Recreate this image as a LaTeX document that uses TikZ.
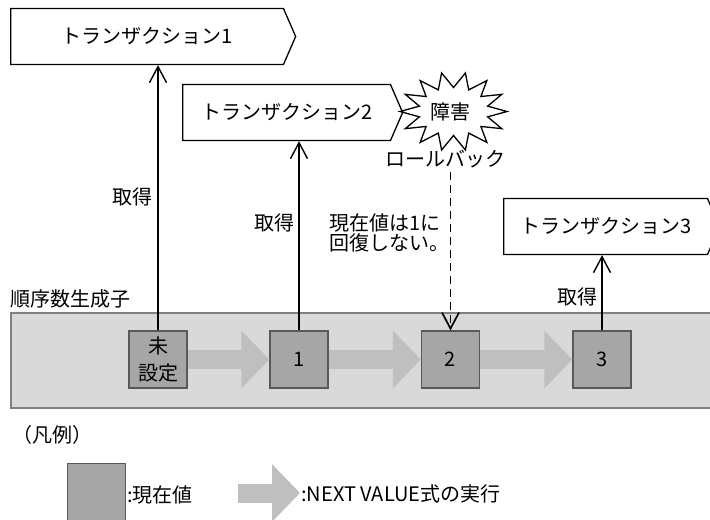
\documentclass[tikz,border=0pt]{standalone}
\usepackage{fontspec}
\setmainfont{Noto Sans CJK JP}
\usetikzlibrary{arrows.meta,positioning,shapes.symbols}
\definecolor{bandgray}{HTML}{D9D9D9}
\definecolor{bandedge}{HTML}{808080}
\definecolor{valgray}{HTML}{A6A6A6}
\definecolor{valedge}{HTML}{595959}
\definecolor{nextgray}{HTML}{BFBFBF}

\begin{document}
\begin{tikzpicture}[
  x=0.5pt, y=-0.5pt,
  font=\fontsize{10}{12}\selectfont,
  txbox/.style={draw, line width=0.65pt, fill=white, signal, signal to=east,
                signal pointer angle=133, minimum height=28pt, inner sep=0pt},
  burstline/.style={draw, line width=0.65pt, fill=white, line join=miter},
  band/.style={draw=bandedge, fill=bandgray, line width=0.8pt, minimum width=351pt,
               minimum height=47.5pt, inner sep=0pt},
  curval/.style={draw=valedge, fill=valgray, line width=0.6pt, minimum width=29pt,
                 minimum height=28.5pt, inner sep=0pt, align=center,
                 font=\fontsize{10}{13.5}\selectfont},
  nextval/.style={draw=nextgray, line width=9.5pt, -{Triangle[length=14pt, width=28pt]}},
  get/.style={-{Straight Barb[length=8pt, width=8.5pt]}, line width=0.7pt},
  fail/.style={get, line width=0.85pt, dash pattern=on 4pt off 2.5pt},
  lbl/.style={inner sep=0pt}
]
\useasboundingbox (0,0) rectangle (710,519);

% transactions
\node[txbox, minimum width=142.5pt, anchor=west] (tx1) at (10,36.5) {トランザクション1};
\node[txbox, minimum width=110pt, anchor=west] (tx2) at (182,112.5) {トランザクション2};
\node[txbox, minimum width=108pt, anchor=west] (tx3) at (503,226.5) {トランザクション3};

% failure burst
\draw[burstline] plot[samples=29, domain=0:28, variable=\k]
  ({453.5 + (mod(round(\k),2)==0 ? 53.5 : 35)*cos(\k*360/28)},
   {111.5 + (mod(round(\k),2)==0 ? 39.5 : 24)*sin(\k*360/28)}) -- cycle;
\node[lbl] (fault) at (450,112) {障害};
\node[lbl] (rollback) at (445,159) {ロールバック};

% sequence generator
\node[band, anchor=north west] (gen) at (10,312) {};
\node[lbl, anchor=west] (genlabel) at (10,299) {順序数生成子};
\node[curval] (s0) at (158,359.5) {未\\設定};
\node[curval] (s1) at (299,359.5) {1};
\node[curval] (s2) at (450.5,359.5) {2};
\node[curval] (s3) at (602,359.5) {3};

\draw[nextval] (s0.east) -- (s1.west);
\draw[nextval] (s1.east) -- (s2.west);
\draw[nextval] (s2.east) -- (s3.west);

\draw[get] (s0.north) -- (s0.north |- tx1.south);
\draw[get] (s1.north) -- (s1.north |- tx2.south);
\draw[get] (s3.north) -- (s3.north |- tx3.south);
\draw[fail] (s2.north |- rollback.south) ++(0,4) -- (s2.north);

\node[lbl, anchor=east] (get1) at (153,197) {取得};
\node[lbl, anchor=east] (get2) at (295,223) {取得};
\node[lbl, anchor=east] (get3) at (598,297) {取得};
\node[lbl, anchor=west, align=left, font=\fontsize{10}{10}\selectfont] (note) at (329,233)
  {現在値は1に\\回復しない。};

% legend
\node[lbl, anchor=west] (legend) at (12,435) {（凡例）};
\node[curval, anchor=north west] (keyval) at (67,463) {};
\node[lbl, anchor=west] (keyvaltext) at (127,495) {:現在値};
\coordinate (keyfrom) at (238,493);
\coordinate (keyto) at (300,493);
\draw[nextval] (keyfrom) -- (keyto);
\node[lbl, anchor=west] (keynexttext) at (301,494) {:NEXT VALUE式の実行};
\end{tikzpicture}
\end{document}
